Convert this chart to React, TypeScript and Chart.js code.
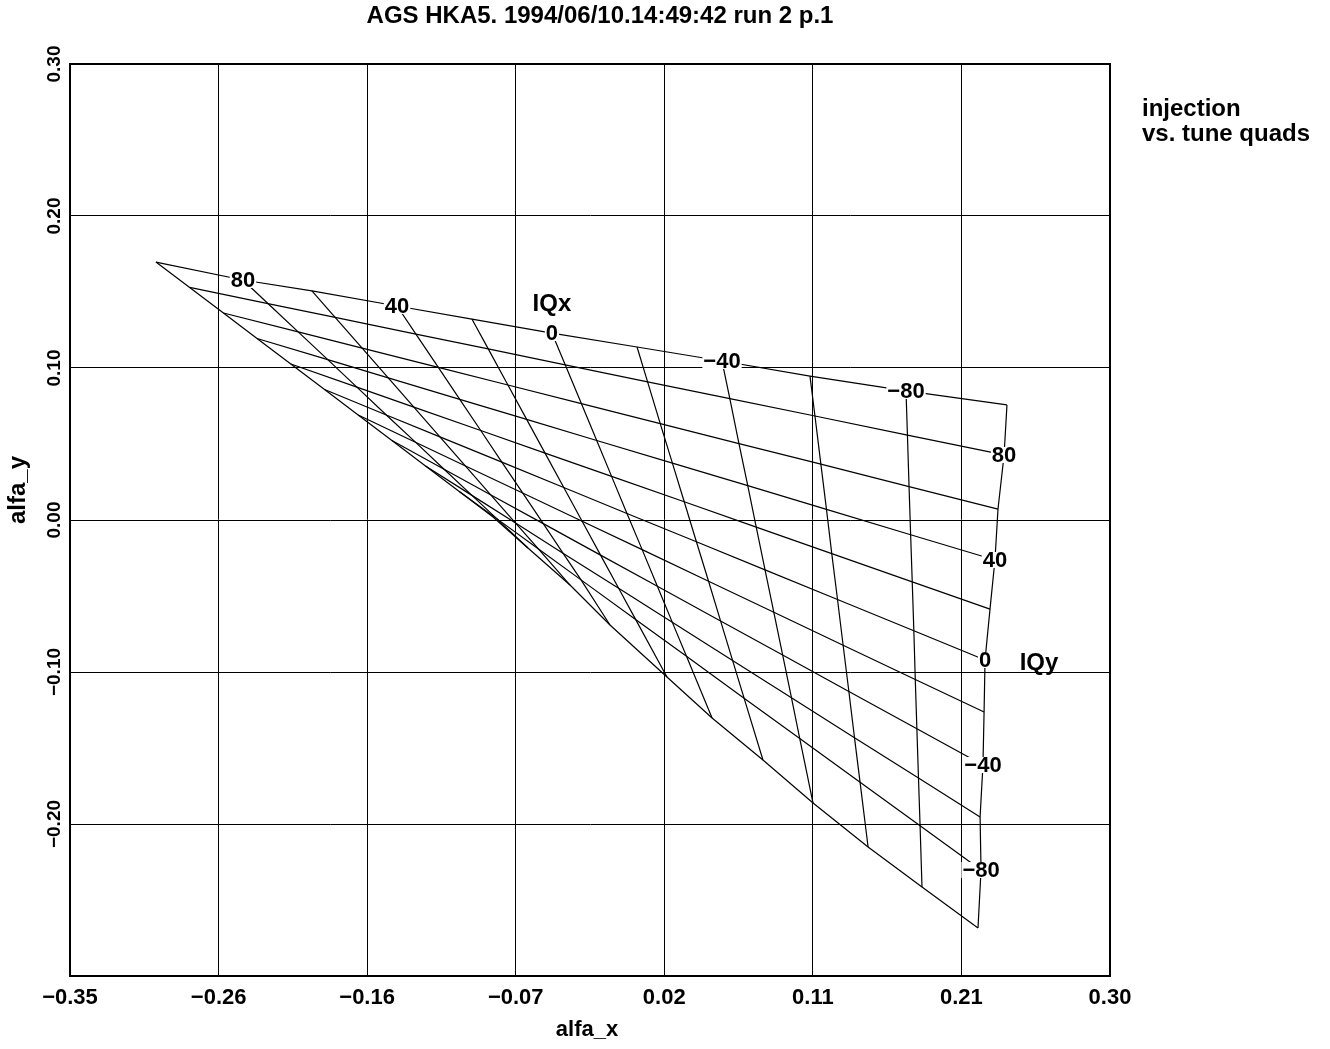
import React, { useEffect, useRef } from "react";
import { Chart, registerables } from "chart.js";

Chart.register(...registerables);

const chartTitle = "AGS HKA5. 1994/06/10.14:49:42 run 2 p.1";
const sideNote = ["injection", "vs. tune quads"];
const xAxisTitle = "alfa_x";
const yAxisTitle = "alfa_y";
const iqxName = "IQx";
const iqyName = "IQy";

// quad current settings (same list for IQx and IQy)
const iqValues = [100, 80, 60, 40, 20, 0, -20, -40, -60, -80, -100];
const labelledIQ = [80, 40, 0, -40, -80];

// rows: one per IQy value (100 .. -100); columns: one per IQx value (100 .. -100)
const alfaX: number[][] = [
  [-0.2963, -0.2419, -0.1988, -0.1456, -0.0988, -0.0488, 0.0044, 0.0575, 0.1125, 0.1725, 0.2356],
  [-0.2752, -0.2263, -0.1843, -0.1338, -0.0886, -0.0405, 0.011, 0.0624, 0.1156, 0.1734, 0.2338],
  [-0.2541, -0.2074, -0.1674, -0.1198, -0.0763, -0.0304, 0.0189, 0.0681, 0.1193, 0.1744, 0.23],
  [-0.2331, -0.1889, -0.1511, -0.1064, -0.0646, -0.0208, 0.0265, 0.0736, 0.1228, 0.1754, 0.2281],
  [-0.212, -0.1707, -0.1351, -0.0933, -0.0531, -0.0115, 0.0339, 0.0789, 0.1261, 0.1764, 0.225],
  [-0.1909, -0.1523, -0.1188, -0.0801, -0.0414, -0.0019, 0.0415, 0.0844, 0.1297, 0.1774, 0.2219],
  [-0.1699, -0.1341, -0.1028, -0.0671, -0.0299, 0.0076, 0.0491, 0.0899, 0.1332, 0.1783, 0.2213],
  [-0.1488, -0.1162, -0.0869, -0.0542, -0.0184, 0.0171, 0.0566, 0.0954, 0.1368, 0.1793, 0.2206],
  [-0.1278, -0.0988, -0.0715, -0.0419, -0.0071, 0.0264, 0.0641, 0.1009, 0.1403, 0.1803, 0.2188],
  [-0.1067, -0.0833, -0.0574, -0.0306, 0.0035, 0.0353, 0.0713, 0.1061, 0.1438, 0.1813, 0.2194],
  [-0.0856, -0.0638, -0.0375, -0.0125, 0.0231, 0.0513, 0.0831, 0.1144, 0.1488, 0.1825, 0.2175],
];
const alfaY: number[][] = [
  [0.1697, 0.1579, 0.1507, 0.1408, 0.1322, 0.123, 0.1138, 0.1046, 0.0947, 0.0849, 0.0757],
  [0.153, 0.1424, 0.1333, 0.1223, 0.1126, 0.1021, 0.0909, 0.0799, 0.0684, 0.0558, 0.0428],
  [0.1362, 0.1238, 0.1131, 0.1004, 0.0888, 0.0766, 0.0634, 0.0503, 0.0368, 0.022, 0.0072],
  [0.1194, 0.1055, 0.0935, 0.0794, 0.0662, 0.0523, 0.0374, 0.0226, 0.007, -0.0097, -0.0263],
  [0.1026, 0.0874, 0.0743, 0.0589, 0.044, 0.0287, 0.012, -0.0047, -0.0221, -0.0407, -0.0586],
  [0.0859, 0.0691, 0.0547, 0.0381, 0.0214, 0.0043, -0.0143, -0.0328, -0.0523, -0.0729, -0.0921],
  [0.0691, 0.0512, 0.0355, 0.0178, -0.0008, -0.0195, -0.0403, -0.0607, -0.0824, -0.1049, -0.1263],
  [0.0523, 0.0334, 0.0164, -0.0024, -0.0231, -0.0436, -0.0664, -0.0888, -0.1128, -0.1374, -0.1612],
  [0.0355, 0.0162, -0.002, -0.0218, -0.0449, -0.0672, -0.0924, -0.1169, -0.1432, -0.1698, -0.1954],
  [0.0188, 0.0009, -0.0189, -0.0394, -0.0654, -0.0897, -0.1172, -0.1438, -0.1726, -0.2012, -0.2303],
  [0.002, -0.0184, -0.0428, -0.0691, -0.1033, -0.1303, -0.1579, -0.1862, -0.2151, -0.2414, -0.2684],
];

const xTickValues = [-0.35, -0.2571, -0.1643, -0.0714, 0.0214, 0.1143, 0.2071, 0.3];
const xTickLabels = ["\u22120.35", "\u22120.26", "\u22120.16", "\u22120.07", "0.02", "0.11", "0.21", "0.30"];
const yTickValues = [0.3, 0.2, 0.1, 0, -0.1, -0.2];
const yTickLabels = ["0.30", "0.20", "0.10", "0.00", "\u22120.10", "\u22120.20"];

const FONT = "'Liberation Sans', Arial, Helvetica, sans-serif";

const fmtIQ = (v: number) => (v < 0 ? "\u2212" + Math.abs(v) : String(v));

const labelPlugin = {
  id: "meshLabels",
  afterDatasetsDraw(chart: any) {
    const ctx = chart.ctx as CanvasRenderingContext2D;
    const xs = chart.scales.x;
    const ys = chart.scales.y;
    const drawLabel = (text: string, px: number, py: number) => {
      ctx.font = `bold 22px ${FONT}`;
      const w = ctx.measureText(text).width;
      ctx.fillStyle = "#fff";
      ctx.fillRect(px - w / 2 - 1, py - 8, w + 2, 16);
      ctx.fillStyle = "#000";
      ctx.textAlign = "center";
      ctx.textBaseline = "middle";
      ctx.fillText(text, px, py + 1);
    };
    ctx.save();
    iqValues.forEach((v, i) => {
      if (!labelledIQ.includes(v)) return;
      // IQx labels along the IQy = 100 edge
      drawLabel(fmtIQ(v), xs.getPixelForValue(alfaX[0][i]), ys.getPixelForValue(alfaY[0][i]));
    });
    const last = iqValues.length - 1;
    iqValues.forEach((v, j) => {
      if (!labelledIQ.includes(v)) return;
      // IQy labels along the IQx = -100 edge
      drawLabel(fmtIQ(v), xs.getPixelForValue(alfaX[j][last]), ys.getPixelForValue(alfaY[j][last]));
    });
    const iZero = iqValues.indexOf(0);
    ctx.font = `bold 24px ${FONT}`;
    ctx.fillStyle = "#000";
    ctx.textAlign = "center";
    ctx.textBaseline = "middle";
    ctx.fillText(iqxName, xs.getPixelForValue(alfaX[0][iZero]), ys.getPixelForValue(alfaY[0][iZero]) - 29);
    ctx.fillText(iqyName, xs.getPixelForValue(alfaX[iZero][last]) + 54, ys.getPixelForValue(alfaY[iZero][last]) + 3);
    ctx.restore();
  },
  afterDraw(chart: any) {
    const ctx = chart.ctx as CanvasRenderingContext2D;
    const a = chart.chartArea;
    ctx.save();
    ctx.strokeStyle = "#000";
    ctx.lineWidth = 2;
    ctx.strokeRect(a.left, a.top, a.right - a.left, a.bottom - a.top);
    ctx.fillStyle = "#000";
    ctx.font = `bold 24px ${FONT}`;
    ctx.textAlign = "center";
    ctx.textBaseline = "middle";
    ctx.fillText(chartTitle, 600, 16);
    ctx.textAlign = "left";
    ctx.textBaseline = "alphabetic";
    ctx.fillText(sideNote[0], 1142, 116);
    ctx.fillText(sideNote[1], 1142, 141);
    ctx.textAlign = "center";
    ctx.textBaseline = "middle";
    ctx.font = `bold 22px ${FONT}`;
    ctx.fillText(xAxisTitle, 587, 1030);
    ctx.save();
    ctx.translate(18, 490);
    ctx.rotate(-Math.PI / 2);
    ctx.font = `bold 24px ${FONT}`;
    ctx.fillText(yAxisTitle, 0, 0);
    ctx.restore();
    ctx.restore();
  },
};

export default function App() {
  const ref = useRef<HTMLCanvasElement | null>(null);
  useEffect(() => {
    if (!ref.current) return;
    const datasets: any[] = [];
    iqValues.forEach((_, j) => {
      datasets.push({
        label: "IQy " + iqValues[j],
        data: iqValues.map((__, i) => ({ x: alfaX[j][i], y: alfaY[j][i] })),
      });
    });
    iqValues.forEach((_, i) => {
      datasets.push({
        label: "IQx " + iqValues[i],
        data: iqValues.map((__, j) => ({ x: alfaX[j][i], y: alfaY[j][i] })),
      });
    });
    datasets.forEach((d) => {
      d.showLine = true;
      d.pointRadius = 0;
      d.borderColor = "#000";
      d.borderWidth = 1.2;
      d.fill = false;
    });
    const chart = new Chart(ref.current, {
      type: "scatter",
      data: { datasets },
      plugins: [labelPlugin],
      options: {
        responsive: false,
        maintainAspectRatio: false,
        animation: false,
        devicePixelRatio: 1,
        layout: { padding: { top: 64, right: 220, bottom: 0, left: 0 } },
        plugins: { legend: { display: false }, tooltip: { enabled: false }, title: { display: false } },
        scales: {
          x: {
            type: "linear",
            min: -0.35,
            max: 0.3,
            afterBuildTicks: (s: any) => {
              s.ticks = xTickValues.map((v) => ({ value: v }));
            },
            afterFit: (s: any) => {
              s.height = 73;
            },
            ticks: {
              callback: (_v: any, i: number) => xTickLabels[i],
              font: { family: FONT, size: 22, weight: "bold" },
              color: "#000",
              padding: 9,
              maxRotation: 0,
              minRotation: 0,
              autoSkip: false,
            },
            grid: { color: "#000", lineWidth: 1, drawTicks: false },
            border: { color: "#000", width: 2 },
          },
          y: {
            type: "linear",
            min: -0.3,
            max: 0.3,
            afterBuildTicks: (s: any) => {
              s.ticks = yTickValues.map((v) => ({ value: v }));
            },
            afterFit: (s: any) => {
              s.width = 70;
            },
            ticks: {
              callback: (_v: any, i: number) => yTickLabels[i],
              font: { family: FONT, size: 19, weight: "bold" },
              color: "#000",
              padding: -9,
              minRotation: 90,
              maxRotation: 90,
              crossAlign: "center",
              autoSkip: false,
            },
            grid: { color: "#000", lineWidth: 1, drawTicks: false },
            border: { color: "#000", width: 2 },
          },
        },
      } as any,
    });
    return () => chart.destroy();
  }, []);
  return (
    <div style={{ position: "absolute", left: 0, top: 0, width: 1330, height: 1049, background: "#fff" }}>
      <canvas ref={ref} width={1330} height={1049} style={{ width: 1330, height: 1049 }} />
    </div>
  );
}
